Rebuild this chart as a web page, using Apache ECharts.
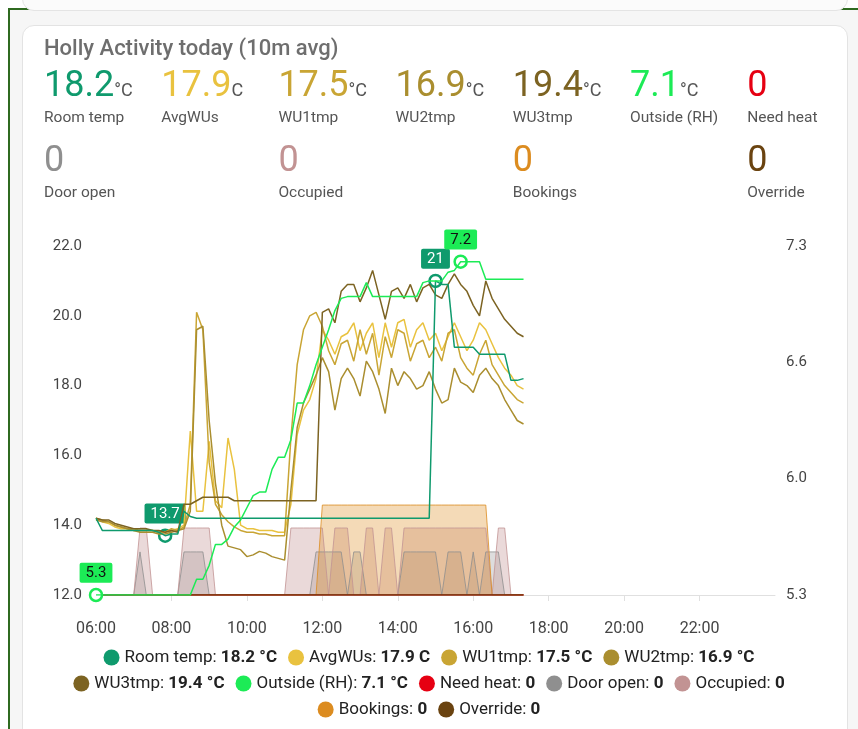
<!DOCTYPE html>
<html>
<head>
<meta charset="utf-8">
<script src="https://cdn.jsdelivr.net/npm/echarts@6/dist/echarts.min.js"></script>
<style>
    html, body { margin: 0; padding: 0; width: 858px; height: 729px; overflow: hidden; background: #fff; font-family: Roboto, sans-serif; }
    #frame { position: absolute; left: 8px; top: 8px; width: 900px; height: 800px; border: 2px solid #2f6a20; background: #f6f6f6; box-sizing: border-box; }
    #prev { position: absolute; left: 22px; top: -30px; width: 826px; height: 41px; border: 1px solid #e4e4e4; border-radius: 12px; background: #fbfbfb; box-sizing: border-box; }
    #card { position: absolute; left: 22px; top: 25px; width: 826px; height: 760px; border: 1px solid #e3e3e3; border-radius: 12px; background: #fff; box-sizing: border-box; }
    #chart { position: absolute; left: 0; top: 0; width: 858px; height: 729px; }
    .title { position: absolute; left: 44px; top: 35px; font-size: 22px; line-height: 26px; font-weight: 500; color: #6e6e6e; white-space: nowrap; }
    .val { position: absolute; font-size: 36px; line-height: 36px; white-space: nowrap; }
    .val span { font-size: 18px; color: #555; }
    .lbl { position: absolute; font-size: 15.5px; line-height: 18px; color: #555; white-space: nowrap; }
</style>
</head>
<body>
<div id="frame"></div>
<div id="prev"></div>
<div id="card"></div>
<div id="chart"></div>
<div id="head"></div>
<script>
// sensors, in legend order
var sensorNames = ['Room temp', 'AvgWUs', 'WU1tmp', 'WU2tmp', 'WU3tmp', 'Outside (RH)',
    'Need heat', 'Door open', 'Occupied', 'Bookings', 'Override'];
var currentValues = ['18.2', '17.9', '17.5', '16.9', '19.4', '7.1', '0', '0', '0', '0', '0'];
var units = ['°C', 'C', '°C', '°C', '°C', '°C', '', '', '', '', ''];
var colors = ['#0f9a6d', '#e9c23f', '#c9a534', '#aa8e2f', '#7c6322', '#1ceb56',
    '#e60012', '#8f8f8f', '#c29393', '#dc8c20', '#6a4310'];

// 10 minute averages from 06:00
var startHour = 6;
var stepHours = 1 / 6;

var roomTemp = [14.2, 13.85, 13.85, 13.85, 13.85, 13.85, 13.85, 13.85, 13.85, 13.85,
    13.8, 13.7, 13.75, 13.75, 14.4, 14.25, 14.2, 14.2, 14.2, 14.2,
    14.2, 14.2, 14.2, 14.2, 14.2, 14.2, 14.2, 14.2, 14.2, 14.2,
    14.2, 14.2, 14.2, 14.2, 14.2, 14.2, 14.2, 14.2, 14.2, 14.2,
    14.2, 14.2, 14.2, 14.2, 14.2, 14.2, 14.2, 14.2, 14.2, 14.2,
    14.2, 14.2, 14.2, 14.2, 21.0, 20.9, 20.9, 19.1, 19.1, 19.1,
    19.1, 18.9, 18.9, 18.9, 18.9, 18.9, 18.15, 18.15, 18.2];
var avgWUs = [14.2, 14.1, 14.05, 13.95, 13.9, 13.9, 13.85, 13.85, 13.85, 13.85,
    13.8, 13.8, 13.85, 13.9, 14.0, 16.7, 14.4, 14.4, 16.4, 14.7,
    14.5, 16.5, 15.6, 14.0, 13.9, 13.9, 13.85, 13.85, 13.85, 13.8,
    13.8, 14.6, 16.6, 17.3, 17.6, 18.2, 19.6, 19.3, 18.9, 19.4,
    19.5, 19.8, 19.0, 19.5, 19.8, 18.8, 19.8, 19.1, 19.8, 19.9,
    19.1, 19.6, 19.8, 19.3, 19.5, 19.0, 19.4, 19.8, 19.4, 19.0,
    19.3, 19.8, 19.6, 19.2, 18.8, 18.5, 18.3, 18.0, 17.9];
var wu1 = [14.2, 14.15, 14.1, 14.0, 13.95, 13.9, 13.9, 13.85, 13.85, 13.85,
    13.8, 13.8, 13.9, 13.85, 13.95, 14.6, 20.1, 19.6, 15.8, 14.6,
    14.3, 14.1, 13.95, 13.85, 13.8, 13.8, 13.75, 13.75, 13.7, 13.7,
    13.7, 16.5, 18.6, 19.6, 20.0, 20.1, 19.7, 19.0, 18.6, 19.2,
    19.3, 18.7, 19.6, 18.9, 19.5, 18.3, 19.4, 18.8, 19.6, 19.5,
    18.7, 19.2, 19.3, 18.8, 19.1, 18.7, 19.5, 19.6, 18.8, 18.5,
    18.3, 18.9, 19.3, 18.6, 18.3, 18.0, 17.8, 17.6, 17.5];
var wu2 = [14.15, 14.1, 14.1, 14.0, 13.95, 13.9, 13.85, 13.8, 13.8, 13.8,
    13.75, 13.75, 13.8, 13.85, 13.9, 14.4, 19.6, 19.7, 17.0, 15.2,
    14.0, 13.4, 13.35, 13.3, 13.1, 13.15, 13.25, 13.2, 13.1, 13.05,
    13.0, 15.0, 16.8, 17.5, 17.9, 18.3, 18.8, 18.4, 17.3, 18.2,
    18.5, 18.2, 17.7, 18.7, 18.4, 17.9, 17.2, 18.5, 18.0, 18.4,
    18.2, 17.9, 18.0, 18.4, 17.9, 17.5, 17.6, 18.5, 18.1, 18.0,
    17.8, 18.3, 18.5, 18.2, 18.0, 17.6, 17.3, 17.0, 16.9];
var wu3 = [14.2, 14.15, 14.15, 14.05, 14.0, 13.95, 13.9, 13.9, 13.9, 13.85,
    13.85, 13.8, 13.85, 13.8, 14.6, 14.6, 14.7, 14.8, 14.8, 14.8,
    14.8, 14.8, 14.7, 14.7, 14.7, 14.7, 14.7, 14.7, 14.7, 14.7,
    14.7, 14.7, 14.7, 14.7, 14.7, 14.7, 20.1, 20.2, 19.8, 20.7,
    20.9, 20.9, 20.4, 20.8, 21.3, 20.6, 19.9, 20.7, 20.8, 20.5,
    20.9, 20.4, 20.8, 20.9, 20.6, 20.5, 20.9, 21.2, 20.9, 20.7,
    20.3, 20.0, 21.0, 20.5, 20.2, 19.9, 19.7, 19.5, 19.4];
var outside = [5.3, 5.3, 5.3, 5.3, 5.3, 5.3, 5.3, 5.3, 5.3, 5.3,
    5.3, 5.3, 5.3, 5.3, 5.3, 5.3, 5.39, 5.39, 5.47, 5.59,
    5.59, 5.62, 5.69, 5.73, 5.8, 5.87, 5.89, 5.89, 6.02, 6.09,
    6.09, 6.19, 6.4, 6.4, 6.5, 6.62, 6.72, 6.82, 6.93, 7.0,
    7.01, 7.01, 7.01, 7.09, 7.01, 7.01, 7.01, 7.01, 7.01, 7.01,
    7.01, 7.01, 7.09, 7.1, 7.1, 7.1, 7.15, 7.16, 7.21, 7.21,
    7.21, 7.21, 7.11, 7.11, 7.11, 7.11, 7.11, 7.11, 7.11];
var needHeat = [0, 0, 0, 0, 0, 0, 0, 0, 0, 0,
    0, 0, 0, 0, 0, 0, 0, 0, 0, 0,
    0, 0, 0, 0, 0, 0, 0, 0, 0, 0,
    0, 0, 0, 0, 0, 0, 0, 0, 0, 0,
    0, 0, 0, 0, 0, 0, 0, 0, 0, 0,
    0, 0, 0, 0, 0, 0, 0, 0, 0, 0,
    0, 0, 0, 0, 0, 0, 0, 0, 0];
var doorOpen = [0, 0, 0, 0, 0, 0, 0, 1, 0, 0,
    0, 0, 0, 0, 1, 1, 1, 1, 0, 0,
    0, 0, 0, 0, 0, 0, 0, 0, 0, 0,
    0, 0, 0, 0, 0, 1, 1, 1, 1, 1,
    0, 1, 1, 0, 0, 0, 0, 0, 0, 1,
    1, 1, 1, 1, 1, 0, 1, 1, 1, 0,
    1, 0, 1, 1, 1, 0, 0, 0, 0];
var occupied = [0, 0, 0, 0, 0, 0, 0, 1, 1, 0,
    0, 0, 0, 0, 1, 1, 1, 1, 1, 0,
    0, 0, 0, 0, 0, 0, 0, 0, 0, 0,
    0, 1, 1, 1, 1, 1, 1, 0, 1, 1,
    1, 0, 0, 1, 1, 0, 1, 1, 0, 1,
    1, 1, 1, 1, 1, 1, 1, 1, 1, 1,
    1, 1, 1, 0, 1, 1, 0, 0, 0];
var bookings = [0, 0, 0, 0, 0, 0, 0, 0, 0, 0,
    0, 0, 0, 0, 0, 0, 0, 0, 0, 0,
    0, 0, 0, 0, 0, 0, 0, 0, 0, 0,
    0, 0, 0, 0, 0, 0, 1, 1, 1, 1,
    1, 1, 1, 1, 1, 1, 1, 1, 1, 1,
    1, 1, 1, 1, 1, 1, 1, 1, 1, 1,
    1, 1, 1, 0, 0, 0, 0, 0, 0];
var override = [0, 0, 0, 0, 0, 0, 0, 0, 0, 0,
    0, 0, 0, 0, 0, 0, 0, 0, 0, 0,
    0, 0, 0, 0, 0, 0, 0, 0, 0, 0,
    0, 0, 0, 0, 0, 0, 0, 0, 0, 0,
    0, 0, 0, 0, 0, 0, 0, 0, 0, 0,
    0, 0, 0, 0, 0, 0, 0, 0, 0, 0,
    0, 0, 0, 0, 0, 0, 0, 0, 0];

// axis ticks
var leftTicks = [12, 14, 16, 18, 20, 22];
var rightTicks = [5.3, 5.9667, 6.6333, 7.3];

// header, entity rows
var head = document.getElementById('head');
var t = document.createElement('div');
t.className = 'title';
t.textContent = 'Holly Activity today (10m avg)';
head.appendChild(t);
var colOf = [0, 1, 2, 3, 4, 5, 6, 0, 2, 4, 6];
sensorNames.forEach(function (name, i) {
    var row = i < 7 ? 0 : 1;
    var x = 44 + colOf[i] * 117.2;
    var v = document.createElement('div');
    v.className = 'val';
    v.style.left = x + 'px';
    v.style.top = (row ? 141 : 66) + 'px';
    v.style.color = colors[i];
    v.textContent = currentValues[i];
    if (units[i]) {
        var u = document.createElement('span');
        u.textContent = units[i];
        v.appendChild(u);
    }
    head.appendChild(v);
    var l = document.createElement('div');
    l.className = 'lbl';
    l.style.left = x + 'px';
    l.style.top = (row ? 183 : 108) + 'px';
    l.textContent = name;
    head.appendChild(l);
});

function pairs(values) {
    return values.map(function (v, i) { return [startHour + i * stepHours, v]; });
}
function round1(p) { return String(Math.round(p.value * 10) / 10); }

function lineSeries(i, data, yIndex, z) {
    return {
        name: sensorNames[i], type: 'line', yAxisIndex: yIndex, data: pairs(data),
        showSymbol: false, symbol: 'none', z: z,
        itemStyle: { color: colors[i] },
        lineStyle: { color: colors[i], width: 1.5 },
        emphasis: { disabled: true }
    };
}
function areaSeries(i, data, yIndex, opacity) {
    var s = lineSeries(i, data, yIndex, 1);
    s.lineStyle.width = 1;
    s.lineStyle.opacity = 0.8;
    s.areaStyle = { color: colors[i], opacity: opacity };
    return s;
}
function marks(i, textColor) {
    return {
        symbol: 'circle', symbolSize: 12,
        itemStyle: { color: '#fff', borderColor: colors[i], borderWidth: 2.5 },
        label: {
            show: true, position: 'top', distance: 5, formatter: round1,
            backgroundColor: colors[i], color: textColor, fontSize: 15,
            padding: [3, 6, 2, 6], borderRadius: 2
        },
        data: [{ type: 'min', valueDim: 'y' }, { type: 'max', valueDim: 'y' }]
    };
}

var room = lineSeries(0, roomTemp, 0, 6);
room.markPoint = marks(0, '#fff');
var out = lineSeries(5, outside, 1, 8);
out.markPoint = marks(5, '#111');

var series = [
    room,
    lineSeries(1, avgWUs, 0, 5),
    lineSeries(2, wu1, 0, 5),
    lineSeries(3, wu2, 0, 5),
    lineSeries(4, wu3, 0, 5),
    out,
    lineSeries(6, needHeat, 5, 4),
    areaSeries(7, doorOpen, 3, 0.3),
    areaSeries(8, occupied, 2, 0.35),
    areaSeries(9, bookings, 4, 0.32),
    lineSeries(10, override, 5, 4)
];

function legendRow(names, top) {
    return {
        data: names, top: top, left: 'center', icon: 'circle',
        itemWidth: 16, itemHeight: 16, itemGap: 11,
        itemStyle: { borderWidth: 0 },
        formatter: function (name) {
            var i = sensorNames.indexOf(name);
            var v = currentValues[i] + (units[i] ? ' ' + units[i] : '');
            return '{n|' + name + ': }{v|' + v + '}';
        },
        textStyle: {
            rich: {
                n: { fontSize: 17, color: '#222', fontFamily: 'Roboto' },
                v: { fontSize: 17, color: '#222', fontWeight: 'bold', fontFamily: 'Roboto' }
            }
        }
    };
}

var chart = echarts.init(document.getElementById('chart'));
chart.setOption({
    animation: false,
    backgroundColor: 'transparent',
    textStyle: { fontFamily: 'Roboto' },
    grid: { left: 96, right: 83, top: 246, bottom: 134, containLabel: false, outerBoundsMode: 'none' },
    legend: [
        legendRow(sensorNames.slice(0, 4), 644),
        legendRow(sensorNames.slice(4, 9), 670),
        legendRow(sensorNames.slice(9), 696)
    ],
    xAxis: {
        type: 'value', min: 6, max: 24, interval: 2, offset: 3,
        axisLine: { lineStyle: { color: '#e0e0e0' } },
        axisTick: { show: true, length: 6, lineStyle: { color: '#e0e0e0' } },
        splitLine: { show: false },
        axisLabel: {
            color: '#444', fontSize: 16, margin: 23, showMaxLabel: false,
            formatter: function (v) { return (v < 10 ? '0' : '') + v + ':00'; }
        }
    },
    yAxis: [
        {
            type: 'value', min: leftTicks[0], max: leftTicks[leftTicks.length - 1], interval: 2,
            axisLine: { show: false }, axisTick: { show: false }, splitLine: { show: false },
            axisLabel: { color: '#444', fontSize: 15, margin: 14, formatter: function (v) { return v.toFixed(1); } }
        },
        {
            type: 'value', position: 'right', min: rightTicks[0], max: rightTicks[rightTicks.length - 1],
            axisLine: { show: false }, axisTick: { show: false }, splitLine: { show: false },
            axisLabel: { color: '#444', fontSize: 15, margin: 11, customValues: rightTicks,
                formatter: function (v) { return v.toFixed(1); } }
        },
        { type: 'value', show: false, min: 0, max: 5.21 },
        { type: 'value', show: false, min: 0, max: 8.1 },
        { type: 'value', show: false, min: 0, max: 3.88 },
        { type: 'value', show: false, min: 0, max: 1 }
    ],
    series: series
});
</script>
</body>
</html>
